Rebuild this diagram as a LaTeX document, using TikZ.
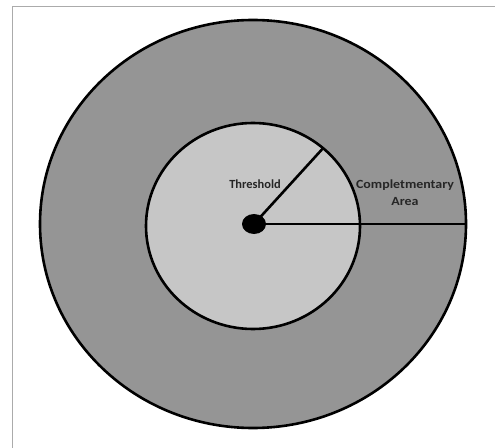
\documentclass[tikz,border=0pt]{standalone}
\usepackage{fontspec}
\setmainfont{Carlito}
\usetikzlibrary{shapes.geometric}
\definecolor{outergray}{HTML}{959595}
\definecolor{innergray}{HTML}{C6C6C6}
\definecolor{framegray}{HTML}{ABABAB}
\tikzset{
  zone/.style={ellipse,draw=black,line width=2.6bp,inner sep=0pt,outer sep=0pt},
  radius/.style={line width=2.6bp},
  lbl/.style={font=\bfseries\fontsize{12.5}{17}\selectfont,text=black!85,align=center,inner sep=0pt}
}
\begin{document}
\begin{tikzpicture}[x=1bp,y=-1bp]%
\useasboundingbox (0,0) rectangle (495,448);
% frame
\draw[framegray,line width=1bp] (12,448) -- (12,7) -- (495,7);
% areas
\node[zone,fill=outergray,minimum width=426bp,minimum height=408bp] (outer) at (253,224) {};
\node[zone,fill=innergray,minimum width=214bp,minimum height=206bp] (inner) at (253,226) {};
\node[ellipse,fill=black,inner sep=0pt,minimum width=24bp,minimum height=20bp] (dot) at (254,224) {};
% radii
\draw[radius] (dot.center) -- (outer.east);
\draw[radius] (dot.center) -- (inner.48);
\node[lbl] (threshold) at (255,184) {Threshold};
\node[lbl,xscale=1.12] (compl) at (405,193) {Completmentary\\Area};
\end{tikzpicture}
\end{document}
